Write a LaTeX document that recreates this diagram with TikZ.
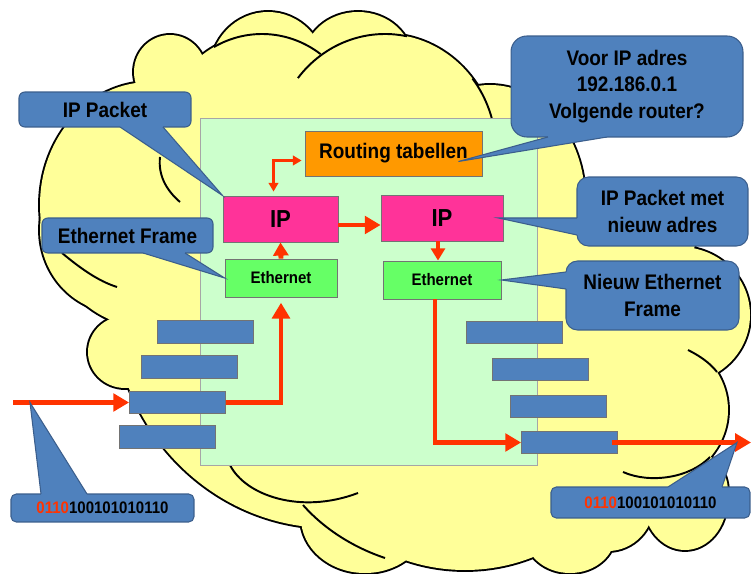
\documentclass[tikz,border=0pt]{standalone}
\usepackage{fontspec}
\setmainfont{Liberation Sans}[FakeStretch=0.9]
\usetikzlibrary{arrows.meta,calc}
\definecolor{cloudfill}{HTML}{FFFF99}
\definecolor{areafill}{HTML}{CCFFCC}
\definecolor{routfill}{HTML}{FF9900}
\definecolor{ipfill}{HTML}{FF3399}
\definecolor{ethfill}{HTML}{66FF66}
\definecolor{callfill}{HTML}{4F81BD}
\definecolor{callline}{HTML}{3B5E8C}
\definecolor{arrred}{HTML}{FF3300}
\def\cloudbumps{150/205/110/123, 120/230/80/83, 170/72/36/37, 262/140/100/106,
  268/72/58/60, 358/60/54/48, 385/150/111/116, 490/200/95/115, 630/240/65/58,
  680/315/70/68, 648/410/80/75, 690/492/38/42, 608/503/46/48, 685/500/42/50,
  570/535/45/38, 465/405/175/165, 365/518/64/55, 330/300/218/228, 125/352/37/36}

\begin{document}
\begin{tikzpicture}[x=0.02cm,y=-0.02cm,font=\bfseries,
  >={Triangle[width=10pt,length=9pt]},
  bump/.style={line width=2.2pt},
  seam/.style={line width=1.1pt},
  box/.style={draw=black!55,line width=0.5pt,inner sep=0pt},
  bar/.style={box,fill=callfill,minimum width=1.92cm,minimum height=0.45cm},
  callout/.style={fill=callfill,draw=callline,line width=0.6pt,inner sep=0pt,
    align=center,font=\bfseries\fontsize{12}{15}\selectfont},
  wedge/.style={fill=callfill},
  wedgeline/.style={draw=callline,line width=0.6pt},
  redarr/.style={arrred,line width=2.8pt,->}]
  \useasboundingbox (0,0) rectangle (751,574);
  \fill[white] (0,0) rectangle (751,574);
  \clip (0,0) rectangle (751,574);

  \foreach \cx/\cy/\rx/\ry in \cloudbumps
    \draw[bump] (\cx,\cy) ellipse [x radius=\rx,y radius=\ry];
  \fill[cloudfill] (120,150) -- (250,90) -- (450,80) -- (560,160) -- (640,300)
    -- (700,400) -- (640,500) -- (450,540) -- (250,480) -- (140,400) -- (100,250) -- cycle;
  \foreach \cx/\cy/\rx/\ry in \cloudbumps
    \fill[cloudfill] (\cx,\cy) ellipse [x radius=\rx,y radius=\ry];
  \draw[seam] (160,157) .. controls (158,175) and (166,190) .. (180,202);
  \draw[seam] (262,140) ++(241.3:100 and 106) arc[start angle=241.3,end angle=305.9,x radius=100,y radius=106];
  \draw[seam] (385,150) ++(218.3:111 and 116) arc[start angle=218.3,end angle=281.4,x radius=111,y radius=116];
  \draw[seam] (385,150) ++(322:111 and 116) arc[start angle=322,end angle=346,x radius=111,y radius=116];
  \draw[seam] (62,253) .. controls (80,268) and (98,281) .. (117,287);
  \draw[seam] (230,465) .. controls (245,495) and (300,515) .. (358,493);
  \draw[seam] (303,505) .. controls (325,530) and (355,548) .. (385,558);
  \draw[seam] (688,350) .. controls (700,356) and (710,363) .. (717,372);
  \draw[seam] (710,457) .. controls (690,478) and (650,484) .. (623,472);

  \node[box,fill=areafill,draw=black!35,minimum width=6.74cm,minimum height=6.94cm] (area) at (368.5,291.5) {};
  \node[box,fill=routfill,minimum width=3.54cm,minimum height=0.9cm,
    font=\bfseries\fontsize{12}{14}\selectfont] (rout) at (393.5,153.5) {Routing tabellen};
  \node[box,fill=ipfill,minimum width=2.3cm,minimum height=0.92cm,
    font=\bfseries\fontsize{14}{16}\selectfont] (ipl) at (280.5,219) {IP};
  \node[box,fill=ipfill,minimum width=2.44cm,minimum height=0.92cm,
    font=\bfseries\fontsize{14}{16}\selectfont] (ipr) at (442,218) {IP};
  \node[box,fill=ethfill,minimum width=2.24cm,minimum height=0.76cm,
    font=\bfseries\fontsize{9.5}{11}\selectfont] (ethl) at (281,278) {Ethernet};
  \node[box,fill=ethfill,minimum width=2.36cm,minimum height=0.76cm,
    font=\bfseries\fontsize{9.5}{11}\selectfont] (ethr) at (442,280) {Ethernet};
  \foreach \n/\x/\y in {1/205/332,2/189/367,3/177.5/402.5,4/167.5/437}
    \node[bar] (l\n) at (\x,\y) {};
  \foreach \n/\x/\y in {1/514.5/332.5,2/540/369.5,3/558.5/406.5,4/569.5/442.5}
    \node[bar] (r\n) at (\x,\y) {};

  \coordinate (inl) at (13,402.5);
  \coordinate (tipl) at (30,402.5);
  \coordinate (outr) at (751,442.5);
  \coordinate (tipr) at (737,442.5);
  \draw[redarr] (inl) -- (l3.west);
  \draw[redarr,shorten >=3pt] (l3.east) -| (ethl.south);
  \draw[redarr,>={Triangle[width=8.5pt,length=7.5pt]}] (ethl.north) -- (ipl.south);
  \draw[arrred,line width=1.3pt,<->,>={Triangle[width=5.5pt,length=5pt]}]
    ($(ipl.north)+(-7,-4)$) |- ($(rout.west)+(-3,7)$);
  \draw[redarr] ($(ipl.east)+(0,6)$) -- ($(ipr.west)+(0,7)$);
  \draw[redarr,>={Triangle[width=8pt,length=7pt]}] ($(ipr.south)+(-4,0)$) -- ($(ethr.north)+(-4,0)$);
  \draw[redarr] ($(ethr.south)+(-7,0)$) |- (r4.west);
  \draw[redarr] ($(r4.east)+(-6,0)$) -- (outr);

  \node[callout,rounded corners=3.3pt,minimum width=3.44cm,minimum height=0.7cm] (cip) at (105,109.5) {IP Packet};
  \fill[wedge] (120,124) -- (120,127) -- (ipl.north west) -- (163,127) -- (163,124) -- cycle;
  \draw[wedgeline] (120,127) -- (ipl.north west) -- (163,127);
  \node[callout,rounded corners=3.3pt,minimum width=3.42cm,minimum height=0.7cm] (ceth) at (127.5,235.5) {Ethernet Frame};
  \fill[wedge] (143,250) -- (143,253) -- (ethl.west) -- (185,253) -- (185,250) -- cycle;
  \draw[wedgeline] (143,253) -- (ethl.west) -- (185,253);
  \node[callout,rounded corners=9pt,minimum width=4.64cm,minimum height=2.02cm] (cvoor) at (627,86.5)
    {Voor IP adres\\192.186.0.1\\Volgende router?};
  \fill[wedge] (548,134) -- (548,137) -- ($(rout.east)+(-24,8)$) -- (607,137) -- (607,134) -- cycle;
  \draw[wedgeline] (548,137) -- ($(rout.east)+(-24,8)$) -- (607,137);
  \node[callout,rounded corners=6.5pt,minimum width=3.42cm,minimum height=1.38cm] (cmet) at (662.5,211.5)
    {IP Packet met\\nieuw adres};
  \fill[wedge] (580,218) -- (577,218) -- ($(ipr.east)+(-5,0)$) -- (577,235) -- (580,235) -- cycle;
  \draw[wedgeline] (577,218) -- ($(ipr.east)+(-5,0)$) -- (577,235);
  \node[callout,rounded corners=6.5pt,minimum width=3.46cm,minimum height=1.38cm] (cnieuw) at (652.5,295.5)
    {Nieuw Ethernet\\Frame};
  \fill[wedge] (569,272) -- (566,272) -- (ethr.east) -- (566,289) -- (569,289) -- cycle;
  \draw[wedgeline] (566,272) -- (ethr.east) -- (566,289);
  \node[callout,rounded corners=3pt,minimum width=3.66cm,minimum height=0.56cm,
    font=\bfseries\fontsize{9.5}{11}\selectfont] (cbitl) at (102.5,508) {\textcolor{arrred}{0110}100101010110};
  \fill[wedge] (41,497) -- (41,494) -- (tipl) -- (87,494) -- (87,497) -- cycle;
  \draw[wedgeline] (41,494) -- (tipl) -- (87,494);
  \node[callout,rounded corners=3pt,minimum width=3.98cm,minimum height=0.62cm,
    font=\bfseries\fontsize{9.5}{11}\selectfont] (cbitr) at (650.5,502.5) {\textcolor{arrred}{0110}100101010110};
  \fill[wedge] (668,490) -- (668,487) -- (tipr) -- (722,487) -- (722,490) -- cycle;
  \draw[wedgeline] (668,487) -- (tipr) -- (722,487);
\end{tikzpicture}
\end{document}
